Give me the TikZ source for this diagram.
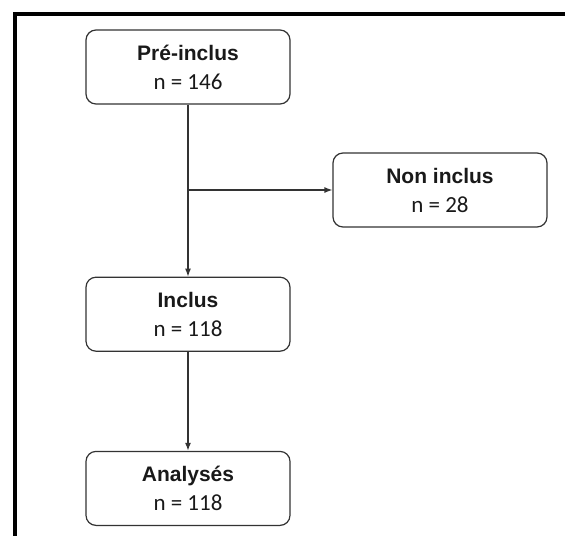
\documentclass[tikz,border=0pt]{standalone}
\usepackage{fontspec}
\setmainfont{Liberation Sans}
\newfontfamily\numfont{Carlito}
\usetikzlibrary{arrows.meta, positioning}

\begin{document}
\begin{tikzpicture}[
  x=1pt, y=-1pt,
  font=\fontsize{21}{29}\selectfont,
  flowbox/.style={draw=black!80, line width=1.2pt, rounded corners=10pt, minimum width=204pt, minimum height=74pt, align=center, inner sep=0pt, text=black!90},
  arrow/.style={-{Latex[length=8pt, width=6pt]}, line width=1.2pt, draw=black!80},
  frame/.style={line width=4.5pt, line join=miter},
  node distance=172pt
]
\useasboundingbox (0,0) rectangle (565,536);
\draw[frame] (565,14) -- (15,14) -- (15,536);

\node[flowbox] (pre) at (188,67) {
  \textbf{Pré-inclus}\\
  {\numfont\fontsize{23}{29}\selectfont n = 146}
};
\node[flowbox, below=of pre] (incl) {
  \textbf{Inclus}\\
  {\numfont\fontsize{23}{29}\selectfont n = 118}
};
\node[flowbox, below=99pt of incl] (anal) {
  \textbf{Analysés}\\
  {\numfont\fontsize{23}{29}\selectfont n = 118}
};
\node[flowbox, minimum width=214pt] (noninc) at (440,190) {
  \textbf{Non inclus}\\
  {\numfont\fontsize{23}{29}\selectfont n = 28}
};

\coordinate (split) at (pre.south |- noninc.west);
\draw[arrow] (pre) -- (incl);
\draw[arrow] (incl) -- (anal);
\draw[arrow] (split) -- (noninc);
\end{tikzpicture}
\end{document}
